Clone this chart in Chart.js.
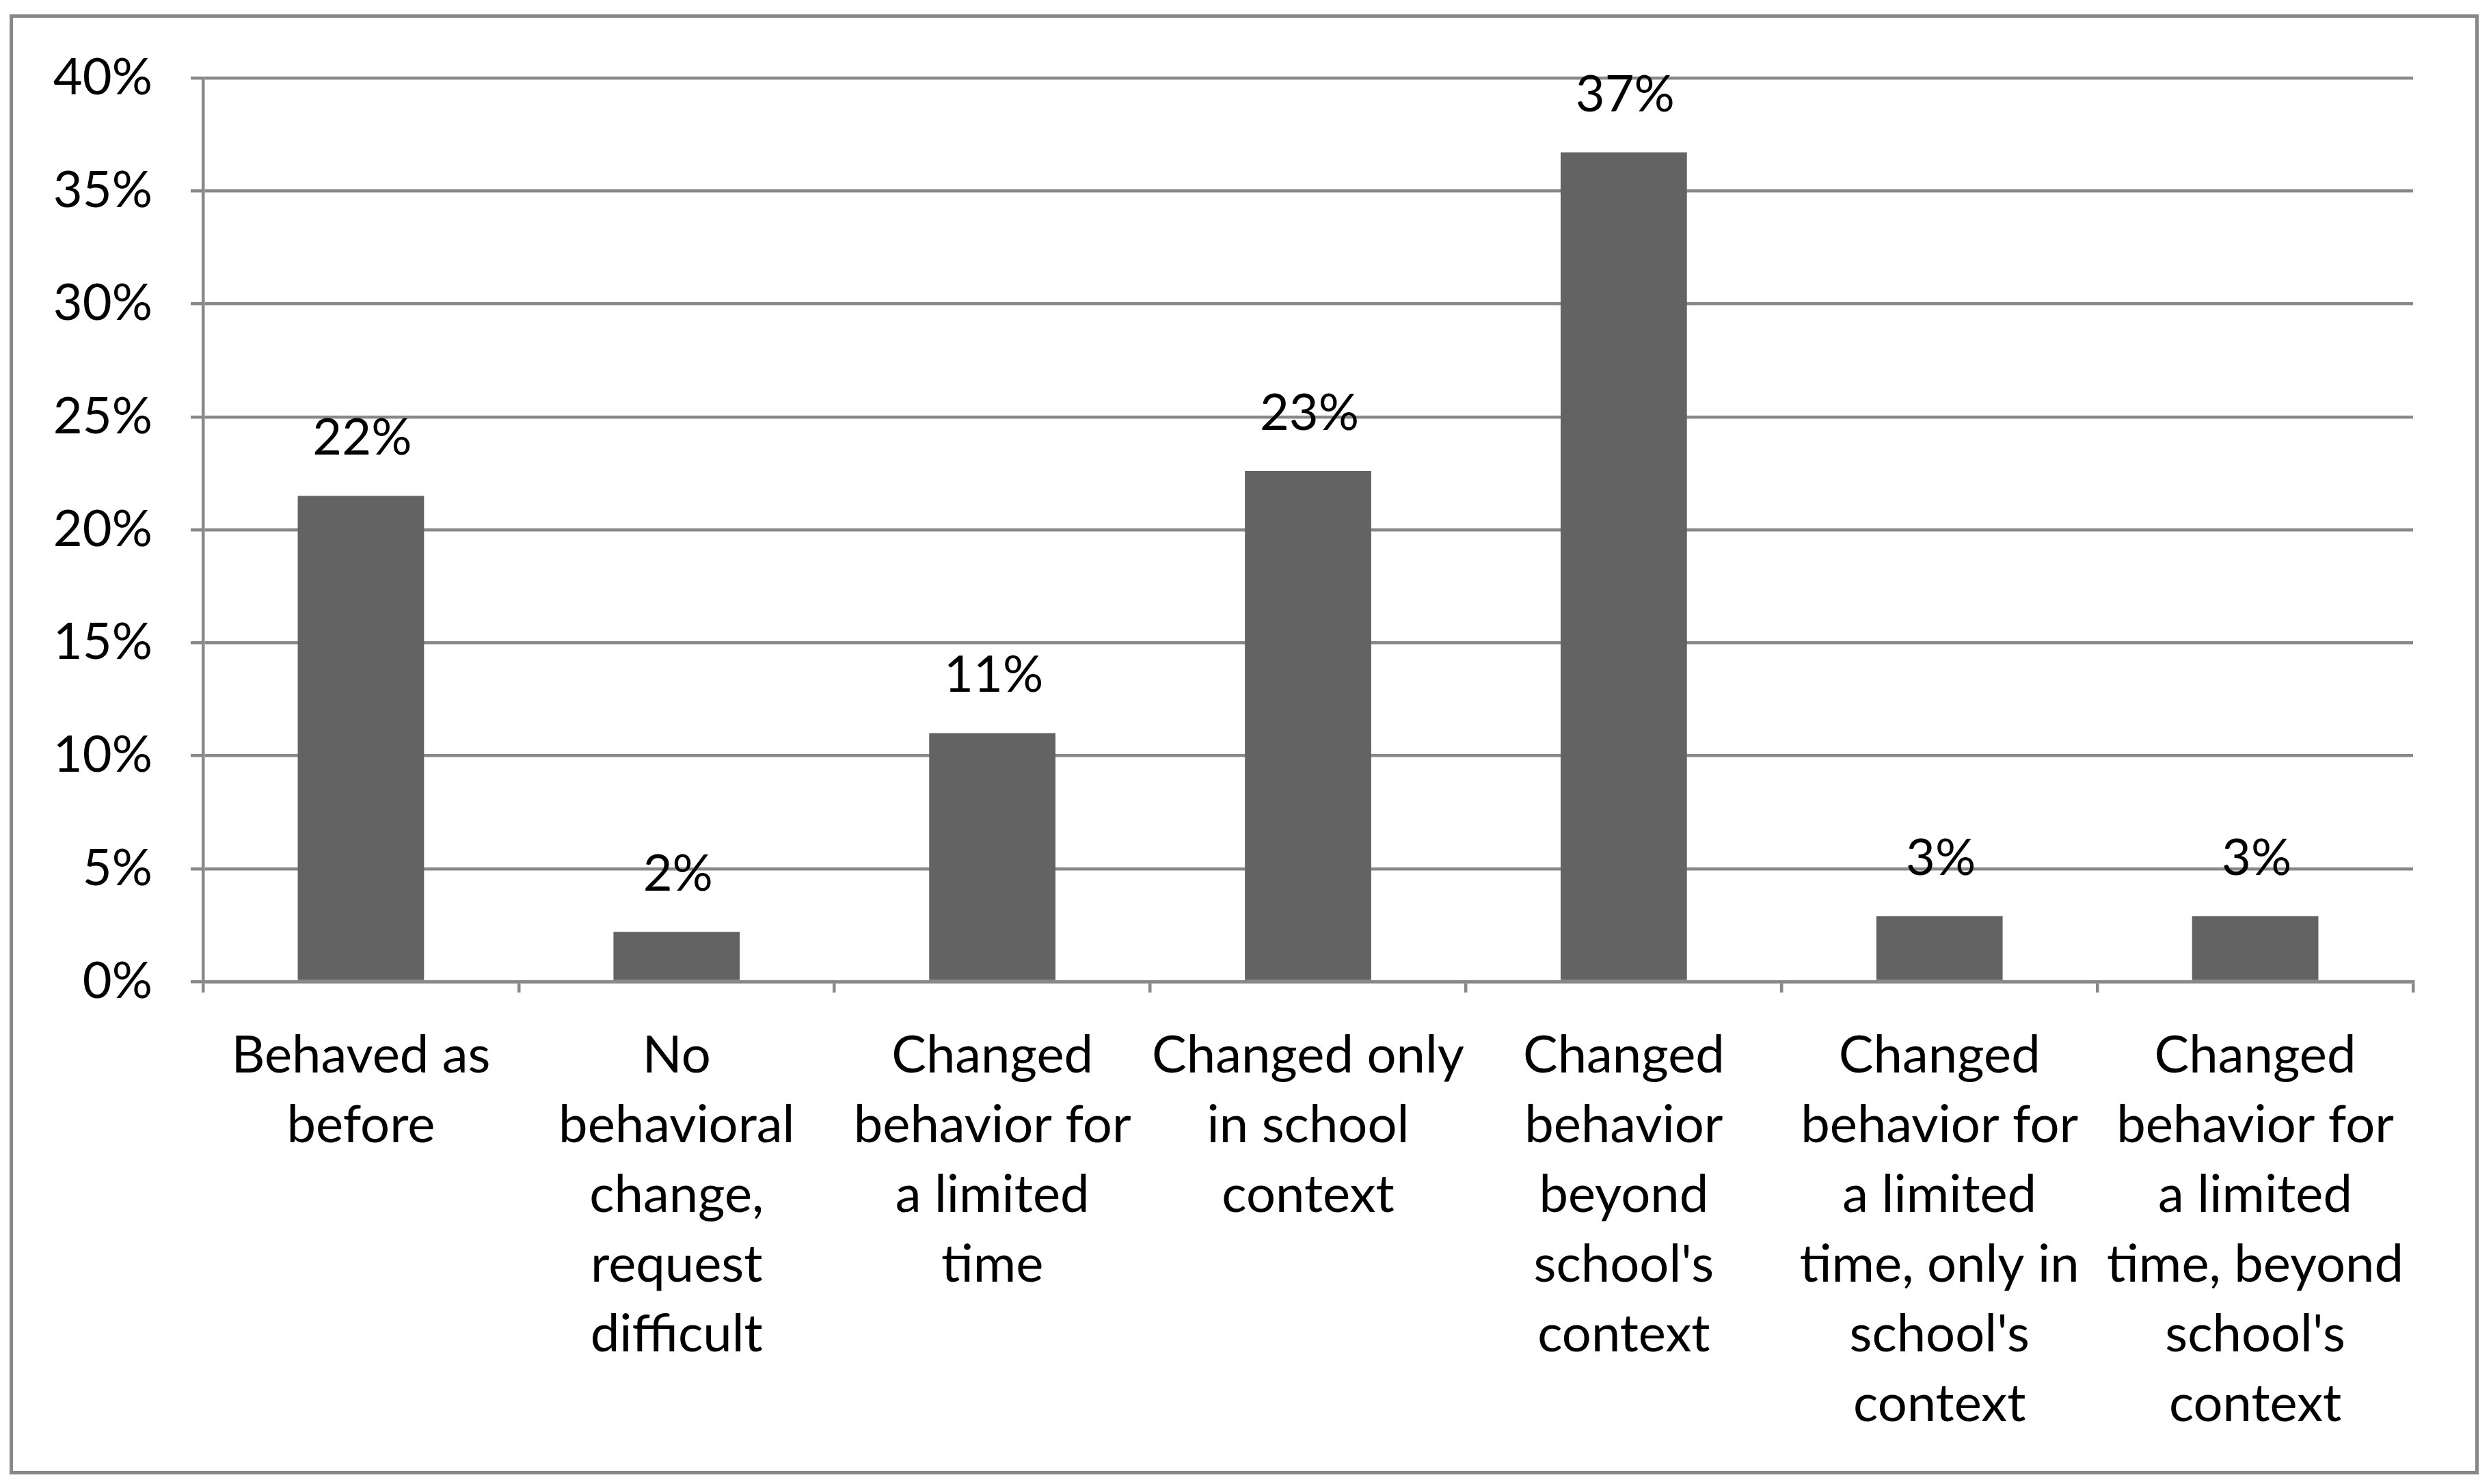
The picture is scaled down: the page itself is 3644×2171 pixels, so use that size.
<!DOCTYPE html>
<html>
<head>
<meta charset="utf-8">
<script src="https://cdn.jsdelivr.net/npm/chart.js@4/dist/chart.umd.min.js"></script>
<style>
  html, body { margin: 0; padding: 0; background: #fff; }
  #wrap { position: relative; width: 3644px; height: 2171px; }
  #frame {
    position: absolute; left: 14px; top: 21px; width: 3602px; height: 2126px;
    border: 5px solid #888; pointer-events: none;
  }
</style>
</head>
<body>
<div id="wrap">
  <canvas id="chart" width="3644" height="2171"></canvas>
  <div id="frame"></div>
</div>
<script>
// chart data
const categories = [
    ["Behaved as", "before"],
    ["No", "behavioral", "change,", "request", "difficult"],
    ["Changed", "behavior for", "a limited", "time"],
    ["Changed only", "in school", "context"],
    ["Changed", "behavior", "beyond", "school's", "context"],
    ["Changed", "behavior for", "a limited", "time, only in", "school's", "context"],
    ["Changed", "behavior for", "a limited", "time, beyond", "school's", "context"]
];
const shares = [21.5, 2.2, 11.0, 22.6, 36.7, 2.9, 2.9];
const shareLabels = ["22%", "2%", "11%", "23%", "37%", "3%", "3%"];
const yTicks = [0, 5, 10, 15, 20, 25, 30, 35, 40];

const FONT = "Lato, 'Open Sans', sans-serif";
const GRID = '#888888';

// draws the value labels above each bar
const barLabels = {
    id: 'barLabels',
    afterDatasetsDraw(chart) {
        const ctx = chart.ctx;
        const meta = chart.getDatasetMeta(0);
        ctx.save();
        ctx.font = "74px " + FONT;
        ctx.fillStyle = '#000';
        ctx.textAlign = 'center';
        ctx.textBaseline = 'middle';
        meta.data.forEach((bar, i) => {
            ctx.fillText(shareLabels[i], bar.x + 2, bar.y - 84);
        });
        ctx.restore();
    }
};

const ctx = document.getElementById('chart').getContext('2d');
const chart = new Chart(ctx, {
    type: 'bar',
    data: {
        labels: categories,
        datasets: [{
            data: shares,
            backgroundColor: '#636363',
            borderWidth: 0,
            barPercentage: 0.4,
            categoryPercentage: 1.0
        }]
    },
    options: {
        responsive: false,
        animation: false,
        devicePixelRatio: 1,
        layout: { padding: { left: 0, top: 114, right: 114, bottom: 0 } },
        plugins: {
            legend: { display: false },
            tooltip: { enabled: false }
        },
        scales: {
            x: {
                afterFit(scale) { scale.height = 735; },
                grid: {
                    offset: true,
                    drawOnChartArea: false,
                    drawTicks: true,
                    tickLength: 16,
                    color: GRID,
                    lineWidth: 4.5
                },
                border: { color: GRID, width: 4.5 },
                ticks: {
                    color: '#000',
                    maxRotation: 0,
                    autoSkip: false,
                    padding: 42,
                    font: { family: FONT, size: 76, lineHeight: 1.34 }
                }
            },
            y: {
                min: 0,
                max: 40,
                afterFit(scale) { scale.width = 297; },
                afterBuildTicks(scale) {
                    scale.ticks = yTicks.map(v => ({ value: v }));
                },
                grid: {
                    color: GRID,
                    lineWidth: 4.5,
                    tickLength: 18
                },
                border: { color: GRID, width: 4.5 },
                ticks: {
                    color: '#000',
                    padding: 56,
                    font: { family: FONT, size: 74 },
                    callback: v => v + '%'
                }
            }
        }
    },
    plugins: [barLabels]
});
</script>
</body>
</html>
